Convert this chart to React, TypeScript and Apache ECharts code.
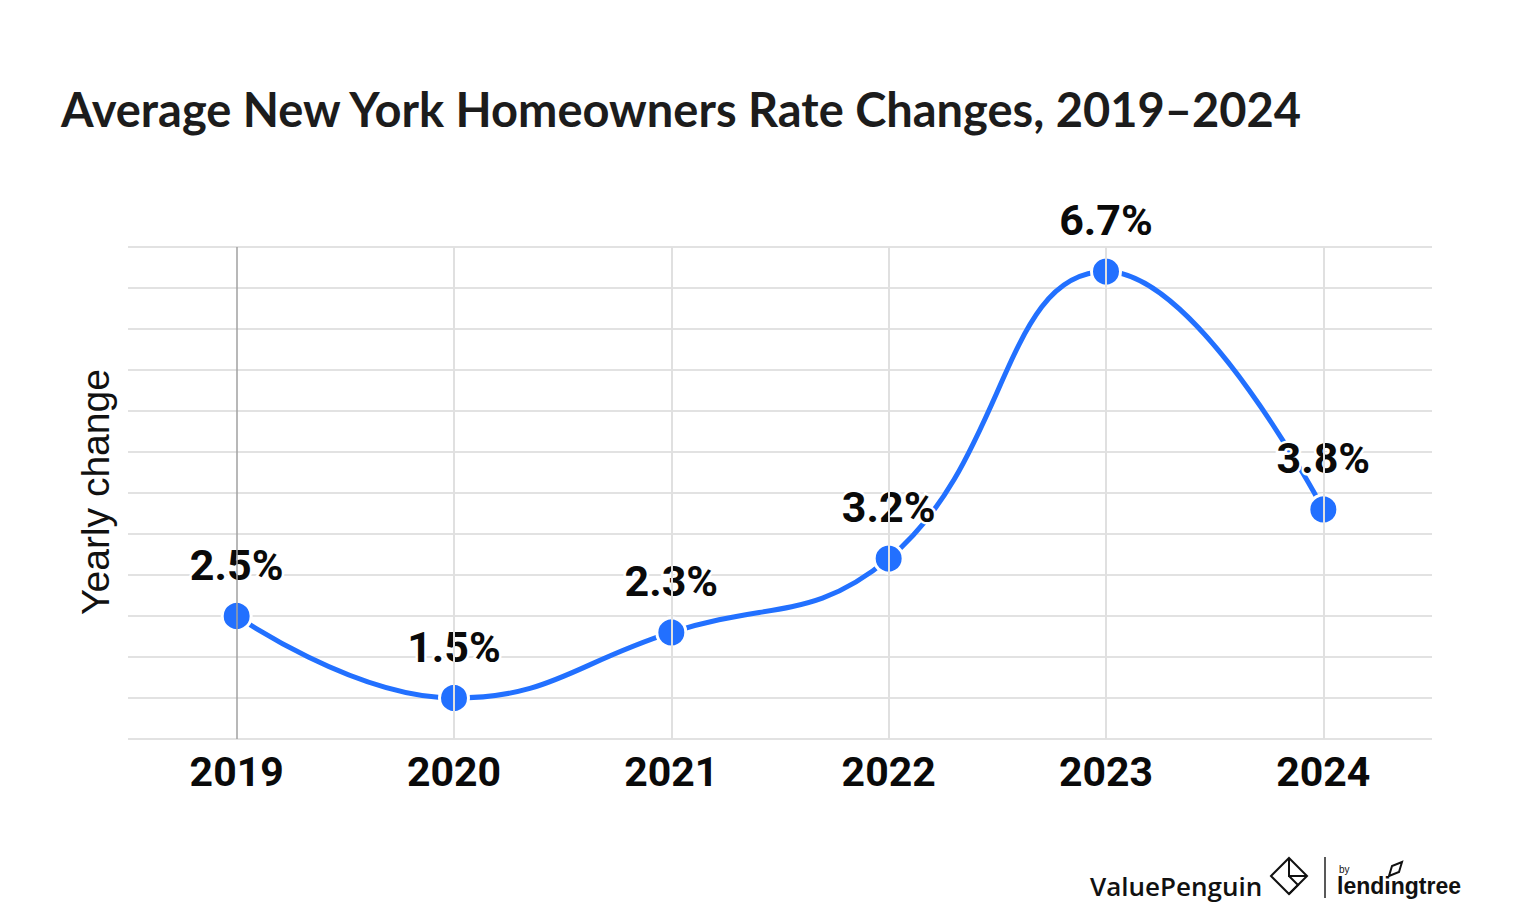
import React, { useEffect, useRef } from "react";
import * as echarts from "echarts";

const years = ["2019", "2020", "2021", "2022", "2023", "2024"];
const yearlyChange = [2.5, 1.5, 2.3, 3.2, 6.7, 3.8];
const yMin = 1;
const yMax = 7;
const yStep = 0.5;

export default function App() {
  const ref = useRef<HTMLDivElement>(null);
  useEffect(() => {
    document.body.style.margin = "0";
    if (!ref.current) return;
    const chart = echarts.init(ref.current, null, { renderer: "svg" });
    const blue = "#2270FF";
    chart.setOption({
      animation: false,
      backgroundColor: "#ffffff",
      title: {
        text: "Average New York Homeowners Rate Changes, 2019–2024",
        left: 56,
        top: 80,
        textStyle: {
          fontFamily: "Lato",
          fontWeight: "bold",
          fontSize: 47,
          color: "#1c1c1c",
        },
      },
      grid: { left: 128, right: 88, top: 247, bottom: 165 },
      xAxis: {
        type: "category",
        data: years,
        boundaryGap: true,
        axisLine: { show: false },
        axisTick: { show: false },
        splitLine: { show: false },
        axisLabel: {
          margin: 12,
          fontFamily: "Roboto",
          fontWeight: "bold",
          fontSize: 41,
          color: "#0a0a0a",
        },
      },
      yAxis: {
        type: "value",
        min: yMin,
        max: yMax,
        interval: yStep,
        axisLine: { show: false },
        axisTick: { show: false },
        axisLabel: { show: false },
        splitLine: { show: true, lineStyle: { color: "#e2e2e2", width: 2 } },
      },
      graphic: [
        {
          type: "text",
          x: 95,
          y: 492,
          rotation: Math.PI / 2,
          style: {
            text: "Yearly change",
            fontFamily: "Liberation Sans",
            fontSize: 39,
            fill: "#111111",
            align: "center",
            verticalAlign: "middle",
          },
        },
        {
          type: "text",
          x: 1090,
          y: 886,
          style: {
            text: "ValuePenguin",
            fontFamily: "Open Sans",
            fontWeight: 600,
            fontSize: 26,
            fill: "#111111",
            align: "left",
            verticalAlign: "middle",
          },
        },
        {
          type: "polygon",
          shape: { points: [[1289, 858], [1307, 876], [1289, 894], [1271, 876]] },
          style: { fill: "none", stroke: "#111111", lineWidth: 2 },
        },
        {
          type: "polyline",
          shape: { points: [[1289, 858], [1289, 876], [1307, 876]] },
          style: { fill: "none", stroke: "#111111", lineWidth: 2 },
        },
        {
          type: "polyline",
          shape: { points: [[1289, 876], [1298, 885], [1289, 894]] },
          style: { fill: "none", stroke: "#111111", lineWidth: 2 },
        },
        {
          type: "line",
          shape: { x1: 1325, y1: 857, x2: 1325, y2: 898 },
          style: { stroke: "#222222", lineWidth: 1.5 },
        },
        {
          type: "text",
          x: 1339,
          y: 869,
          style: {
            text: "by",
            fontFamily: "Liberation Sans",
            fontSize: 10,
            fill: "#111111",
            align: "left",
            verticalAlign: "middle",
          },
        },
        {
          type: "text",
          x: 1337,
          y: 886,
          style: {
            text: "lendingtree",
            fontFamily: "Liberation Sans",
            fontWeight: "bold",
            fontSize: 23,
            fill: "#111111",
            align: "left",
            verticalAlign: "middle",
          },
        },
        {
          type: "polygon",
          shape: { points: [[1389, 876], [1392, 866], [1402, 862], [1399, 872]] },
          style: { fill: "none", stroke: "#111111", lineWidth: 2 },
        },
      ],
      series: [
        {
          type: "line",
          data: [],
          z: 1,
          markLine: {
            silent: true,
            symbol: "none",
            label: { show: false },
            animation: false,
            data: years.map((y, i) => ({
              xAxis: y,
              lineStyle: {
                type: "solid",
                color: i === 0 ? "#a0a0a0" : "#e0e0e0",
                width: i === 0 ? 1.5 : 2,
              },
            })),
          },
        },
        {
          type: "line",
          data: yearlyChange,
          z: 3,
          smooth: 0.45,
          symbol: "circle",
          symbolSize: 29,
          lineStyle: { color: blue, width: 5 },
          itemStyle: { color: blue, borderColor: "#ffffff", borderWidth: 3 },
          label: {
            show: true,
            position: "top",
            distance: 14,
            formatter: (p: any) => p.value.toFixed(1) + "%",
            fontFamily: "Roboto",
            fontWeight: "bold",
            fontSize: 43,
            color: "#0a0a0a",
            textBorderColor: "#ffffff",
            textBorderWidth: 5,
          },
        },
      ],
    });
    return () => chart.dispose();
  }, []);
  return <div ref={ref} style={{ width: 1520, height: 904 }} />;
}
